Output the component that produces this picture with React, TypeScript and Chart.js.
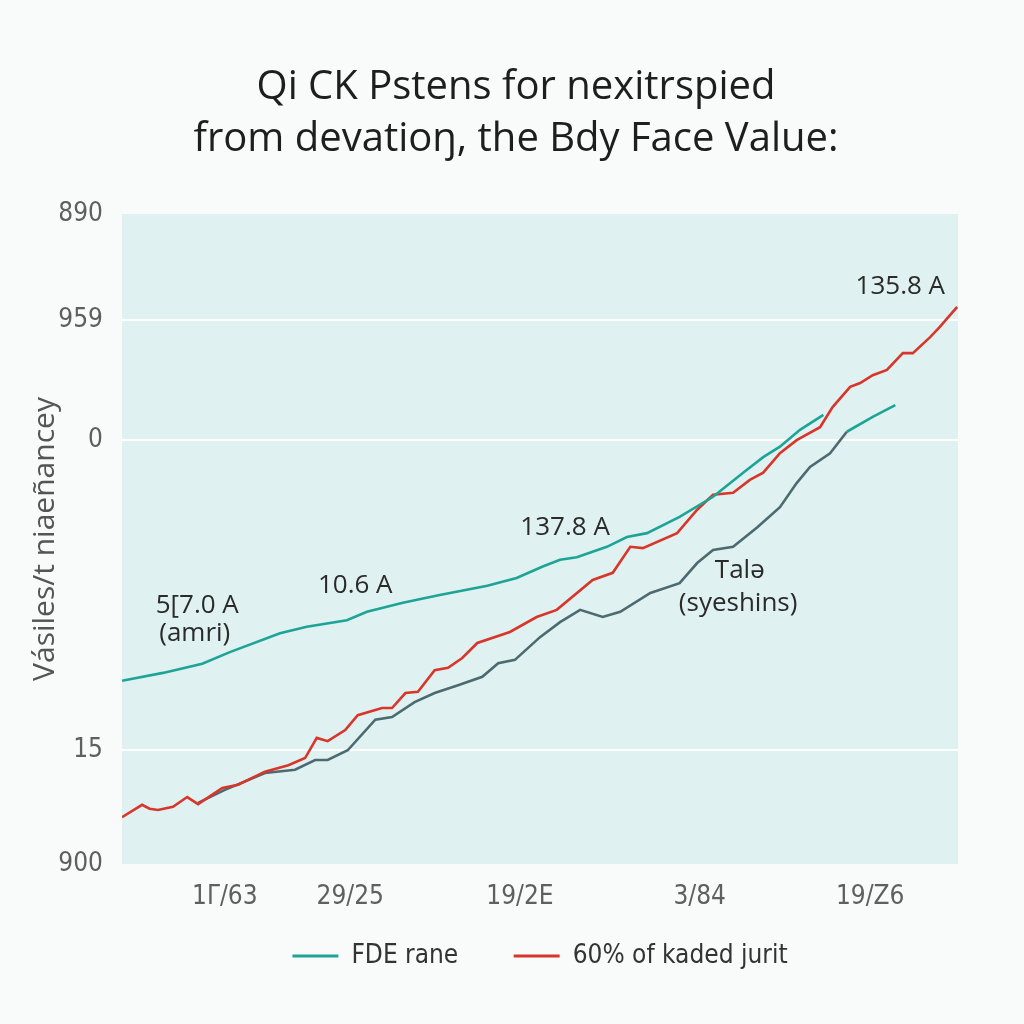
import React, { useEffect, useRef } from 'react';
import { Chart, registerables } from 'chart.js';

Chart.register(...registerables);

const TITLE_LINES = ['Qi CK Pstens for nexitrspied', 'from devatioŋ, the Bdy Face Value:'];
const Y_TITLE = 'Vásiles/t niaeñancey';
const X_TICK_POS = [12.3, 27.3, 47.6, 69.1, 89.5];
const X_TICK_LABELS = ['1Γ/63', '29/25', '19/2E', '3/84', '19/Z6'];
const Y_TICK_POS = [0, 17.5, 65.2, 83.7, 100];
const Y_TICK_LABELS = ['900', '15', '0', '959', '890'];
const SERIES_NAMES = ['FDE rane', '60% of kaded jurit', 'Talə', ''];

const TEAL_X = [0, 4.9, 9.6, 12.9, 18.9, 22.1, 26.9, 29.3, 33.6, 38.0, 43.7, 47.2, 50.4, 52.4, 54.4, 58.0, 60.4, 62.8, 66.7, 70.7, 74.3, 76.7, 78.7, 81.1, 83.9];
const TEAL_Y = [28.2, 29.4, 30.8, 32.6, 35.5, 36.5, 37.5, 38.8, 40.2, 41.4, 42.8, 44.0, 45.8, 46.8, 47.2, 48.8, 50.3, 50.9, 53.4, 56.5, 60.2, 62.6, 64.2, 66.8, 69.1];

const RED_X = [0, 2.4, 3.3, 4.3, 6.1, 7.8, 9.1, 12.0, 13.9, 17.1, 19.9, 21.9, 23.3, 24.6, 26.7, 28.2, 31.1, 32.3, 33.9, 35.4, 37.4, 39.0, 40.7, 42.5, 46.4, 49.6, 52.0, 56.3, 58.7, 60.8, 62.3, 66.4, 68.8, 70.7, 73.1, 75.1, 76.7, 78.7, 80.7, 83.5, 85.0, 87.1, 88.3, 89.8, 91.5, 93.4, 94.6, 96.7, 97.8, 99.9];
const RED_Y = [7.2, 9.1, 8.5, 8.3, 8.8, 10.3, 9.2, 11.7, 12.2, 14.2, 15.2, 16.3, 19.4, 18.9, 20.6, 22.9, 24.0, 24.0, 26.3, 26.5, 29.8, 30.2, 31.7, 34.0, 35.7, 38.0, 39.1, 43.7, 44.8, 48.8, 48.6, 50.9, 54.5, 56.8, 57.1, 59.1, 60.2, 63.2, 65.2, 67.2, 70.3, 73.4, 74.0, 75.2, 76.0, 78.6, 78.6, 81.1, 82.6, 85.7];

const GRAY_X = [9.1, 12.3, 17.1, 20.7, 23.1, 24.6, 27.0, 30.3, 32.3, 35.0, 37.4, 40.2, 43.1, 45.0, 47.0, 50.0, 52.4, 54.8, 57.5, 59.6, 63.2, 66.7, 68.8, 70.7, 73.1, 76.0, 78.7, 80.7, 82.3, 84.7, 86.7];
const GRAY_Y = [9.4, 11.4, 14.0, 14.5, 16.0, 16.0, 17.5, 22.2, 22.6, 24.9, 26.3, 27.5, 28.8, 30.9, 31.4, 34.9, 37.2, 39.1, 38.0, 38.8, 41.7, 43.2, 46.3, 48.3, 48.8, 51.8, 54.9, 58.6, 61.1, 63.2, 66.5];

const TAIL_X = [86.7, 89.8, 92.5];
const TAIL_Y = [66.5, 68.8, 70.6];

const ANNOT_TEXT = ['135.8 A', '137.8 A', '10.6 A', '5[7.0 A', '(amri)', 'Talə', '(syeshins)'];
const ANNOT_X = [93.1, 53.0, 27.9, 9.0, 8.7, 73.9, 73.7];
const ANNOT_Y = [88.8, 51.8, 42.9, 39.8, 35.5, 45.2, 40.0];

const FONT = "'Open Sans', 'Liberation Sans', sans-serif";
const NARROW = "'DejaVu Sans Condensed', 'Liberation Sans', sans-serif";
const TEAL = '#1ea496';
const RED = '#d8362b';
const GRAY = '#4b6b70';

const pts = (xs: number[], ys: number[]) => xs.map((x, i) => ({ x, y: ys[i] }));

const bgPlugin = {
  id: 'plotBg',
  beforeDraw(chart: any) {
    const { ctx, chartArea: a } = chart;
    ctx.save();
    ctx.fillStyle = '#f9fbfb';
    ctx.fillRect(0, 0, chart.width, chart.height);
    ctx.fillStyle = '#dff1f0';
    ctx.fillRect(a.left, a.top, a.right - a.left, a.bottom - a.top);
    ctx.restore();
  },
};

const annotPlugin = {
  id: 'annots',
  afterDatasetsDraw(chart: any) {
    const { ctx, scales } = chart;
    ctx.save();
    ctx.font = `26px ${FONT}`;
    ctx.fillStyle = '#2a2a2a';
    ctx.textAlign = 'center';
    ctx.textBaseline = 'middle';
    ANNOT_TEXT.forEach((t, i) => {
      ctx.fillText(t, scales.x.getPixelForValue(ANNOT_X[i]), scales.y.getPixelForValue(ANNOT_Y[i]));
    });
    ctx.restore();
  },
};

export default function App() {
  const ref = useRef<HTMLCanvasElement>(null);
  useEffect(() => {
    document.body.style.margin = '0';
    const mk = (label: string, xs: number[], ys: number[], color: string) => ({
      label,
      data: pts(xs, ys),
      borderColor: color,
      backgroundColor: color,
      borderWidth: 2.6,
      pointRadius: 0,
      tension: 0,
      fill: false,
      yAxisID: 'y',
    });
    const chart = new Chart(ref.current!, {
      type: 'line',
      data: {
        datasets: [
          mk(SERIES_NAMES[0], TEAL_X, TEAL_Y, TEAL),
          mk(SERIES_NAMES[1], RED_X, RED_Y, RED),
          mk(SERIES_NAMES[2], GRAY_X, GRAY_Y, GRAY),
          mk(SERIES_NAMES[3], TAIL_X, TAIL_Y, TEAL),
        ],
      },
      options: {
        responsive: false,
        animation: false,
        layout: { padding: { left: 8, right: 0, top: 62, bottom: 45 } },
        scales: {
          x: {
            type: 'linear',
            min: 0,
            max: 100,
            afterBuildTicks: (s: any) => {
              s.ticks = X_TICK_POS.map((v) => ({ value: v }));
            },
            afterFit: (s: any) => {
              s.height = 47;
            },
            ticks: {
              padding: 18,
              autoSkip: false,
              maxRotation: 0,
              color: '#5f5f5f',
              font: { family: NARROW, size: 26 },
              callback: (v: any) => {
                const i = X_TICK_POS.indexOf(Number(v));
                return i >= 0 ? X_TICK_LABELS[i] : '';
              },
            },
            grid: { display: false, drawTicks: false },
            border: { display: false },
          },
          y: {
            type: 'linear',
            position: 'left',
            min: 0,
            max: 100,
            afterBuildTicks: (s: any) => {
              s.ticks = Y_TICK_POS.map((v) => ({ value: v }));
            },
            afterFit: (s: any) => {
              s.width = 114;
            },
            ticks: {
              padding: 19,
              color: '#5f5f5f',
              font: { family: NARROW, size: 26 },
              callback: (v: any) => {
                const i = Y_TICK_POS.indexOf(Number(v));
                return i >= 0 ? Y_TICK_LABELS[i] : '';
              },
            },
            grid: {
              drawTicks: false,
              lineWidth: 2,
              color: (c: any) => (c.tick && (c.tick.value === 0 || c.tick.value === 100) ? 'rgba(0,0,0,0)' : '#ffffff'),
            },
            border: { display: false },
            title: {
              display: true,
              text: Y_TITLE,
              color: '#555',
              font: { family: FONT, size: 30 },
              padding: { top: 19, bottom: 0 },
            },
          },
          y2: {
            type: 'linear',
            position: 'right',
            display: true,
            afterFit: (s: any) => {
              s.width = 66;
            },
            ticks: { display: false },
            grid: { display: false, drawTicks: false },
            border: { display: false },
          },
        },
        plugins: {
          title: {
            display: true,
            text: TITLE_LINES,
            color: '#1e1e1e',
            font: { family: FONT, size: 40, weight: 'normal', lineHeight: 1.3 },
            padding: { top: 0, bottom: 48 },
          },
          legend: {
            position: 'bottom',
            fullSize: false,
            labels: {
              boxWidth: 46,
              boxHeight: 3,
              padding: 32,
              color: '#333',
              font: { family: NARROW, size: 26 },
              filter: (item: any) => item.datasetIndex < 2,
              generateLabels: (ch: any) =>
                Chart.defaults.plugins.legend.labels
                  .generateLabels(ch)
                  .map((l: any) => ({ ...l, lineWidth: 0, text: l.datasetIndex === 0 ? l.text + '\u2003' : l.text })),
            },
          },
          tooltip: { enabled: false },
        },
      } as any,
      plugins: [bgPlugin, annotPlugin],
    });
    return () => chart.destroy();
  }, []);
  return <canvas ref={ref} width={1024} height={1024} style={{ display: 'block' }} />;
}
